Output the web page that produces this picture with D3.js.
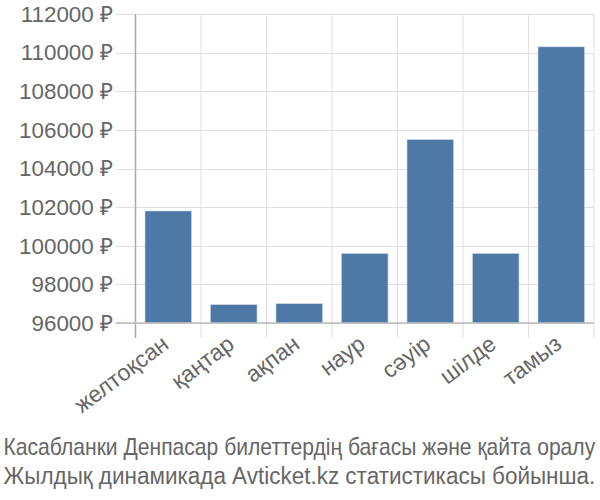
<!DOCTYPE html>
<html><head><meta charset="utf-8">
<script src="https://cdn.jsdelivr.net/npm/d3@7"></script>
<style>body{margin:0;background:#fff}</style>
</head><body>
<svg id="c" width="600" height="500"></svg>
<script>
const categories = ["желтоқсан","қаңтар","ақпан","наур","сәуір","шілде","тамыз"];
const values = [101800, 96950, 97000, 99600, 105500, 99600, 110300];
const yTicks = [96000, 98000, 100000, 102000, 104000, 106000, 108000, 110000, 112000];
const titleLines = ["Касабланки Денпасар билеттердің бағасы және қайта оралу", "Жылдық динамикада Avticket.kz статистикасы бойынша."];

const svg = d3.select("#c");
const L = 135.5, R = 594, T = 14, B = 323;
const x = d3.scaleBand().domain(categories).range([L, R]).paddingInner(0.29).paddingOuter(0.145);
const y = d3.scaleLinear().domain([96000, 112000]).range([B, T]);
const step = x.step(), off = (step - x.bandwidth()) / 2;

const grid = svg.append("g");
grid.selectAll("line.h").data(yTicks).join("line")
  .attr("x1", L - 20).attr("x2", R).attr("y1", d => Math.round(y(d)) + 0.5).attr("y2", d => Math.round(y(d)) + 0.5)
  .attr("stroke", "#e0e0e0").attr("stroke-width", 1);
const vx = categories.map(c => x(c) - off).concat([R]);
grid.selectAll("line.v").data(vx).join("line")
  .attr("x1", d => d).attr("x2", d => d).attr("y1", T).attr("y2", B + 15)
  .attr("stroke", "#e0e0e0").attr("stroke-width", 1);

svg.append("g").selectAll("rect").data(values).join("rect")
  .attr("x", (d, i) => x(categories[i])).attr("width", x.bandwidth())
  .attr("y", d => y(d)).attr("height", d => y(96000) - y(d))
  .attr("fill", "#4e79a7").attr("stroke", "#c8d6e8").attr("stroke-width", 0.6);

svg.append("line").attr("x1", L).attr("x2", L).attr("y1", T).attr("y2", B + 15).attr("stroke", "#aaa").attr("stroke-width", 1.5);
svg.append("line").attr("x1", L - 20).attr("x2", R).attr("y1", B).attr("y2", B).attr("stroke", "#bbb").attr("stroke-width", 1.5);

svg.append("g").selectAll("text").data(yTicks).join("text")
  .attr("x", 113).attr("y", d => y(d)).attr("dy", "0.35em").attr("text-anchor", "end")
  .attr("font-family", "Liberation Sans, Arial, sans-serif").attr("font-size", 22.4).attr("fill", "#666")
  .text(d => d + " ₽");

svg.append("g").selectAll("text").data(categories).join("text")
  .attr("text-anchor", "end")
  .attr("transform", d => `translate(${x(d) + x.bandwidth()/2 + 2},${B + 24}) rotate(-37)`)
  .attr("font-family", "Liberation Sans, Arial, sans-serif").attr("font-size", 23).attr("fill", "#666")
  .text(d => d);

titleLines.forEach((line, i) => {
  const g = svg.append("g");
  const t = g.append("text").attr("x", 0).attr("y", 0)
    .attr("font-family", "Liberation Sans, Arial, sans-serif").attr("font-size", 23).attr("fill", "#666")
    .text(line);
  const w = t.node().getComputedTextLength();
  const sx = 592 / w;
  g.attr("transform", `translate(3.5,${455 + i * 29}) scale(${sx},1)`);
});
</script>
</body></html>
